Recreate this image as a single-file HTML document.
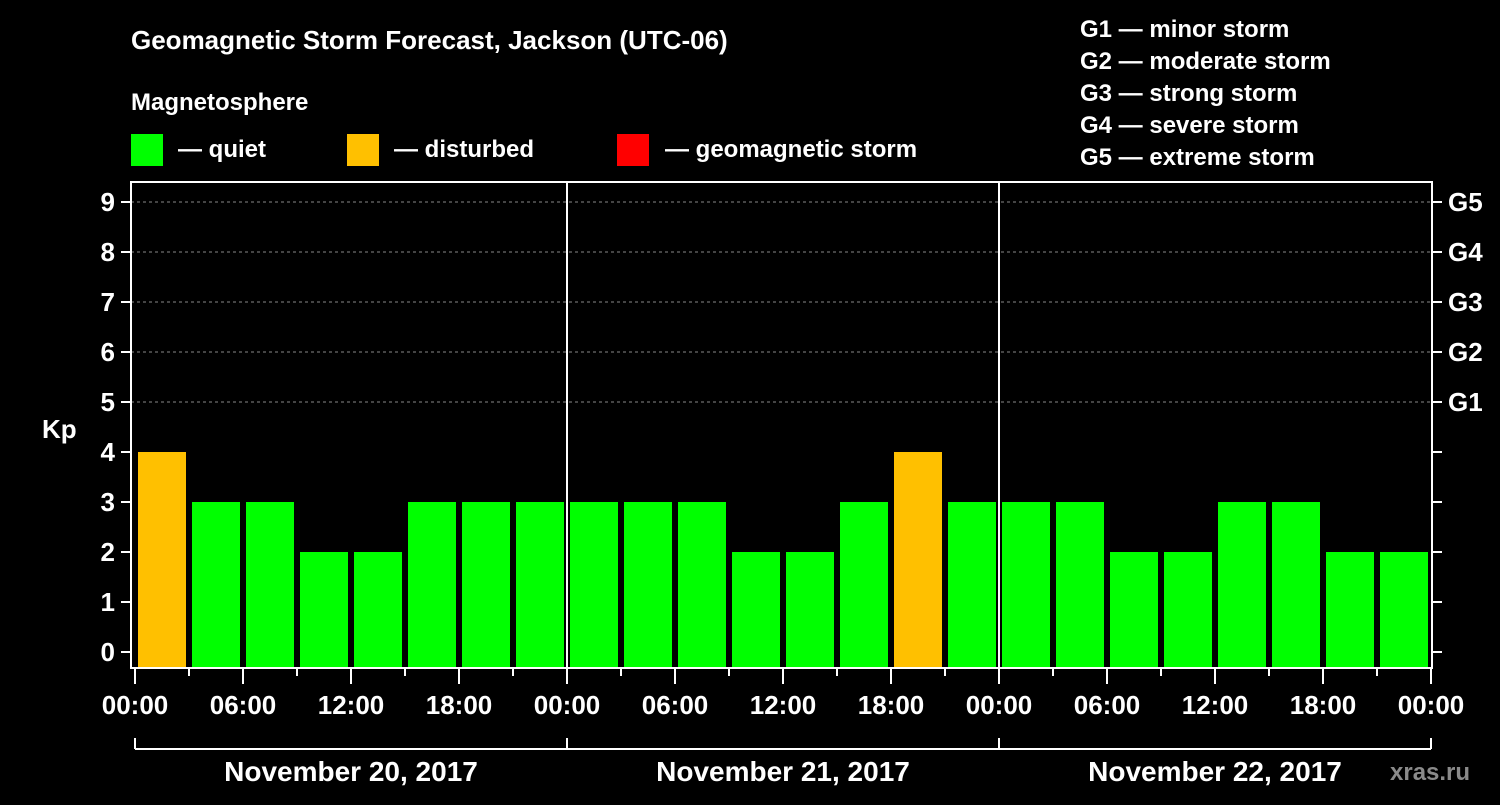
<!DOCTYPE html>
<html><head><meta charset="utf-8"><style>
body{margin:0;background:#000;width:1500px;height:800px;overflow:hidden}
svg text{font-family:"Liberation Sans",sans-serif;font-weight:bold;fill:#fff}
</style></head><body>
<svg id="c" width="1500" height="800">
<text x="131" y="49" font-size="26">Geomagnetic Storm Forecast, Jackson (UTC-06)</text>
<text x="131" y="110" font-size="24">Magnetosphere</text>
<g><rect x="131" y="134" width="32" height="32" fill="#00ff00"/><text x="178" y="157" font-size="24">— quiet</text></g>
<g><rect x="347" y="134" width="32" height="32" fill="#ffc000"/><text x="394" y="157" font-size="24">— disturbed</text></g>
<g><rect x="617" y="134" width="32" height="32" fill="#ff0000"/><text x="665" y="157" font-size="24">— geomagnetic storm</text></g>
<g font-size="24">
<text x="1080" y="37">G1 — minor storm</text><text x="1080" y="69">G2 — moderate storm</text><text x="1080" y="101">G3 — strong storm</text><text x="1080" y="133">G4 — severe storm</text><text x="1080" y="165">G5 — extreme storm</text></g>
<text x="42" y="438" font-size="26">Kp</text>
<text x="1390" y="780" font-size="24" fill="#888" style="fill:#8a8a8a">xras.ru</text>
<g id="grid"></g><g id="bars"></g><g id="axes"></g>
</svg>
<script>
const days=["November 20, 2017","November 21, 2017","November 22, 2017"];
const kpValues=[4,3,3,2,2,3,3,3, 3,3,3,2,2,3,4,3, 3,3,2,2,3,3,2,2];
const yTicks=[0,1,2,3,4,5,6,7,8,9];
const gLabels=["G1","G2","G3","G4","G5"];
const hourLabels=["00:00","06:00","12:00","18:00"];
const NS="http://www.w3.org/2000/svg";
const x0=135,slot=54,y0=652,unit=50,plotTop=182,plotBot=668,xRight=1432;
const X=i=>x0+i*slot, Y=v=>y0-v*unit;
function mk(t,a,p){const e=document.createElementNS(NS,t);for(const k in a)e.setAttribute(k,a[k]);p.appendChild(e);return e}
const grid=document.getElementById('grid'),bars=document.getElementById('bars'),axes=document.getElementById('axes');
yTicks.forEach(v=>{
 if(v>=5){const l=mk('line',{x1:131,x2:xRight,y1:Y(v),y2:Y(v),stroke:'#888','stroke-dasharray':'3,3','stroke-width':1},grid);
 
 }
 mk('line',{x1:121,x2:131,y1:Y(v),y2:Y(v),stroke:'#fff','stroke-width':2},axes);
 mk('line',{x1:xRight,x2:xRight+10,y1:Y(v),y2:Y(v),stroke:'#fff','stroke-width':2},axes);
 const t=mk('text',{x:115,y:Y(v)+9,'text-anchor':'end','font-size':26},axes);t.textContent=v;
 
 
});
gLabels.forEach((g,i)=>{const t=mk('text',{x:1448,y:Y(5+i)+9,'font-size':26},axes);t.textContent=g;
 
 });
kpValues.forEach((v,i)=>{
 const col=v>=5?'#ff0000':v>=4?'#ffc000':'#00ff00';
 const r=mk('rect',{x:X(i)+3,y:Y(v),width:48,height:plotBot-Y(v),fill:col},bars);
 
 
});
mk('rect',{x:131,y:plotTop,width:xRight-131,height:plotBot-plotTop,fill:'none',stroke:'#fff','stroke-width':2},axes);
for(let i=0;i<=kpValues.length;i++){
 const major=i%2===0;
 mk('line',{x1:X(i),x2:X(i),y1:plotBot,y2:plotBot+(major?16:8),stroke:'#fff','stroke-width':2},axes);
 if(major){const t=mk('text',{x:X(i),y:714,'text-anchor':'middle','font-size':26},axes);t.textContent=hourLabels[(i/2)%4];
 
 }
}
days.forEach((d,k)=>{
 const a=X(k*8),b=X(k*8+8);
 if(k>0)mk('line',{x1:a,x2:a,y1:plotTop,y2:plotBot,stroke:'#fff','stroke-width':2},axes);
 mk('line',{x1:a,x2:b,y1:749,y2:749,stroke:'#fff','stroke-width':2},axes);
 mk('line',{x1:a,x2:a,y1:738,y2:749,stroke:'#fff','stroke-width':2},axes);
 mk('line',{x1:b,x2:b,y1:738,y2:749,stroke:'#fff','stroke-width':2},axes);
 const t=mk('text',{x:(a+b)/2,y:781,'text-anchor':'middle','font-size':28},axes);t.textContent=d;
 
 
});
</script>
</body></html>
